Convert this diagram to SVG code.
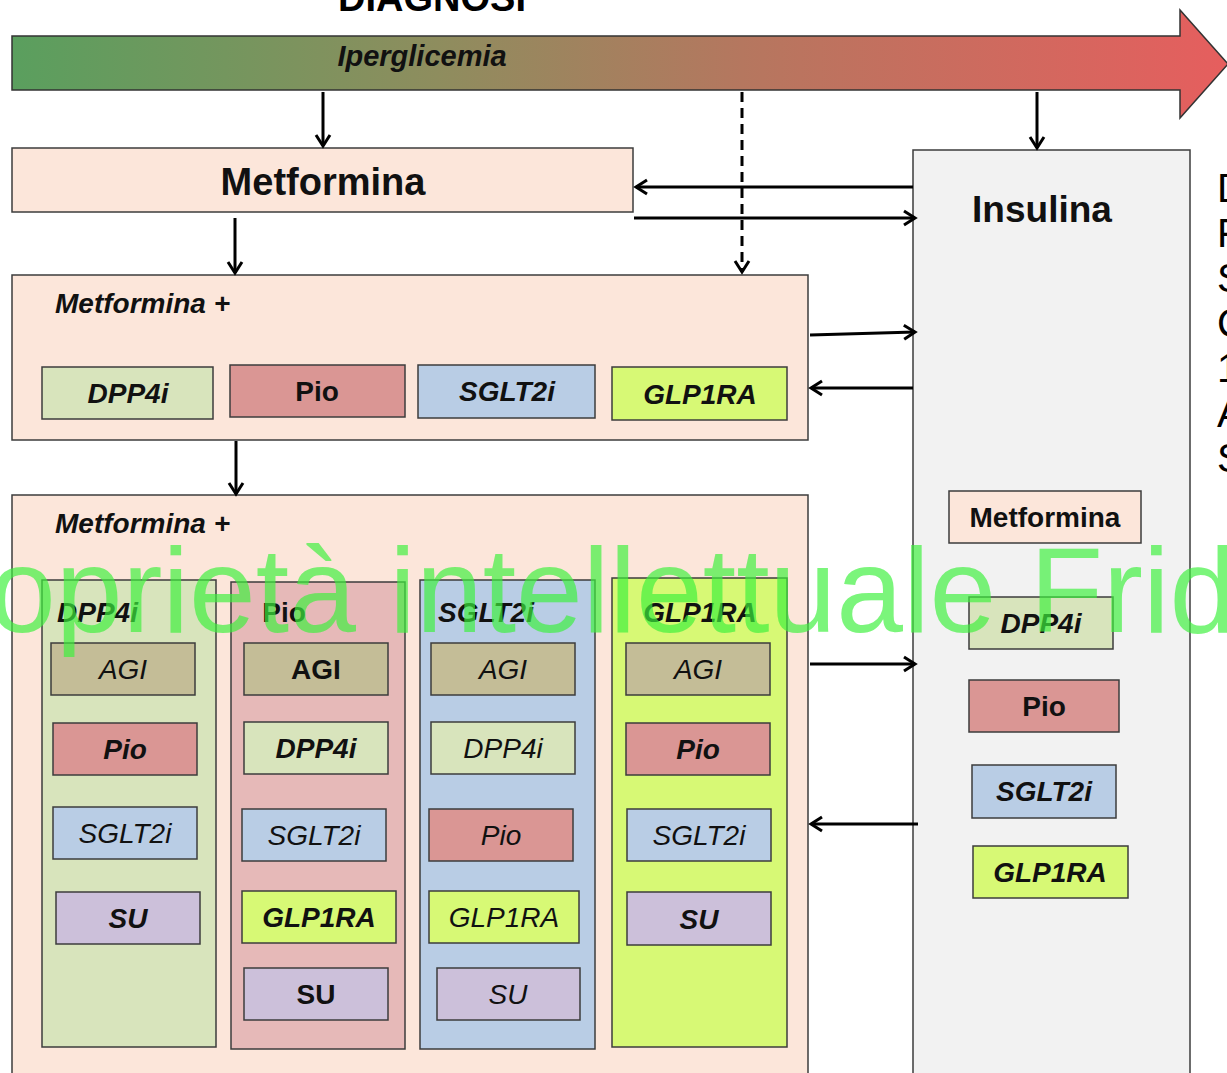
<svg xmlns="http://www.w3.org/2000/svg" width="1227" height="1073" viewBox="0 0 1227 1073">
<style>
.box{stroke:#3c3c3c;stroke-width:1.5}
.peach{fill:#fce6da}.green{fill:#d8e4bc}.red{fill:#da9694}.blue{fill:#b9cde5}
.lime{fill:#d7f975}.tan{fill:#c4bd97}.purple{fill:#ccc0da}.ltred{fill:#e6b9b8}.gray{fill:#f2f2f2}
.t{font-family:"Liberation Sans",Arial,sans-serif;font-size:28px;text-anchor:middle;fill:#111}
.b{font-weight:bold}.i{font-style:italic}
.st{font-family:"Liberation Sans",Arial,sans-serif;font-size:28px;font-weight:bold;font-style:italic;fill:#111}
.conn{stroke:#000;stroke-width:3;fill:none}
.side{font-family:"Liberation Sans",Arial,sans-serif;font-size:40px;fill:#000}
</style>
<defs>
<linearGradient id="grad" x1="0" y1="0" x2="1" y2="0">
<stop offset="0" stop-color="#5a9f5e"/>
<stop offset="0.35" stop-color="#8e8d5e"/>
<stop offset="0.6" stop-color="#b5775f"/>
<stop offset="1" stop-color="#e65e5e"/>
</linearGradient>
<marker id="ah" markerUnits="userSpaceOnUse" markerWidth="16" markerHeight="18" refX="13" refY="9" orient="auto">
<path d="M2,2 L13,9 L2,16" fill="none" stroke="#000" stroke-width="3"/>
</marker>
</defs>
<rect width="1227" height="1073" fill="#fff"/>

<g id="diagnosi">
<text x="432" y="11" font-family="Liberation Sans,Arial,sans-serif" font-size="38" font-weight="bold" text-anchor="middle">DIAGNOSI</text>
</g>

<g id="iperglicemia">
<path d="M12,36 H1180 V10 L1228,64 L1180,118 V90 H12 Z" fill="url(#grad)" stroke="#333" stroke-width="1.5"/>
<text x="422" y="66" font-family="Liberation Sans,Arial,sans-serif" font-size="29" font-weight="bold" font-style="italic" text-anchor="middle" fill="#111">Iperglicemia</text>
</g>

<g id="metformina">
<rect class="box peach" x="12" y="148" width="621" height="64"/>
<text class="t b" x="323" y="195" style="font-size:38px">Metformina</text>
</g>

<g id="insulina">
<rect class="box gray" x="913" y="150" width="277" height="925"/>
<text class="t b" x="1042" y="222" style="font-size:37px">Insulina</text>
<rect class="box peach" x="949" y="491" width="192" height="52"/>
<text class="t b" x="1045" y="527">Metformina</text>
<rect class="box green" x="969" y="597" width="144" height="52"/>
<text class="t b i" x="1041" y="633">DPP4i</text>
<rect class="box red" x="969" y="680" width="150" height="52"/>
<text class="t b" x="1044" y="716">Pio</text>
<rect class="box blue" x="972" y="765" width="144" height="53"/>
<text class="t b i" x="1044" y="801">SGLT2i</text>
<rect class="box lime" x="973" y="846" width="155" height="52"/>
<text class="t b i" x="1050" y="882">GLP1RA</text>
</g>

<g id="side-text">
<text class="side" x="1217" y="202">D</text>
<text class="side" x="1217" y="247">F</text>
<text class="side" x="1217" y="292">S</text>
<text class="side" x="1217" y="337">C</text>
<text class="side" x="1217" y="382">1</text>
<text class="side" x="1217" y="427">A</text>
<text class="side" x="1217" y="472">S</text>
</g>

<g id="metformina-plus-1">
<rect class="box peach" x="12" y="275" width="796" height="165"/>
<text class="st" x="55" y="313">Metformina +</text>
<rect class="box green" x="42" y="367" width="171" height="52"/>
<text class="t b i" x="128" y="403">DPP4i</text>
<rect class="box red" x="230" y="365" width="175" height="52"/>
<text class="t b" x="317" y="401">Pio</text>
<rect class="box blue" x="418" y="365" width="177" height="53"/>
<text class="t b i" x="507" y="401">SGLT2i</text>
<rect class="box lime" x="612" y="367" width="175" height="53"/>
<text class="t b i" x="700" y="404">GLP1RA</text>
</g>

<g id="metformina-plus-2">
<rect class="box peach" x="12" y="495" width="796" height="590"/>
<text class="st" x="55" y="533">Metformina +</text>
</g>

<g id="col-dpp4i">
<rect class="box green" x="42" y="580" width="174" height="467"/>
<text class="st" x="57" y="622">DPP4i</text>
<rect class="box tan" x="51" y="643" width="144" height="52"/>
<text class="t i" x="123" y="679">AGI</text>
<rect class="box red" x="53" y="723" width="144" height="52"/>
<text class="t b i" x="125" y="759">Pio</text>
<rect class="box blue" x="53" y="807" width="144" height="52"/>
<text class="t i" x="125" y="843">SGLT2i</text>
<rect class="box purple" x="56" y="892" width="144" height="52"/>
<text class="t b i" x="128" y="928">SU</text>
</g>

<g id="col-pio">
<rect class="box ltred" x="231" y="582" width="174" height="467"/>
<text class="t b" x="284" y="622">Pio</text>
<rect class="box tan" x="244" y="643" width="144" height="52"/>
<text class="t b" x="316" y="679">AGI</text>
<rect class="box green" x="244" y="722" width="144" height="52"/>
<text class="t b i" x="316" y="758">DPP4i</text>
<rect class="box blue" x="242" y="809" width="144" height="52"/>
<text class="t i" x="314" y="845">SGLT2i</text>
<rect class="box lime" x="242" y="891" width="154" height="52"/>
<text class="t b i" x="319" y="927">GLP1RA</text>
<rect class="box purple" x="244" y="968" width="144" height="52"/>
<text class="t b" x="316" y="1004">SU</text>
</g>

<g id="col-sglt2i">
<rect class="box blue" x="420" y="580" width="175" height="469"/>
<text class="st" x="438" y="622">SGLT2i</text>
<rect class="box tan" x="431" y="643" width="144" height="52"/>
<text class="t i" x="503" y="679">AGI</text>
<rect class="box green" x="431" y="722" width="144" height="52"/>
<text class="t i" x="503" y="758">DPP4i</text>
<rect class="box red" x="429" y="809" width="144" height="52"/>
<text class="t i" x="501" y="845">Pio</text>
<rect class="box lime" x="429" y="891" width="150" height="52"/>
<text class="t i" x="504" y="927">GLP1RA</text>
<rect class="box purple" x="437" y="968" width="143" height="52"/>
<text class="t i" x="508" y="1004">SU</text>
</g>

<g id="col-glp1ra">
<rect class="box lime" x="612" y="578" width="175" height="469"/>
<text class="t b i" x="700" y="622">GLP1RA</text>
<rect class="box tan" x="626" y="643" width="144" height="52"/>
<text class="t i" x="698" y="679">AGI</text>
<rect class="box red" x="626" y="723" width="144" height="52"/>
<text class="t b i" x="698" y="759">Pio</text>
<rect class="box blue" x="627" y="809" width="144" height="52"/>
<text class="t i" x="699" y="845">SGLT2i</text>
<rect class="box purple" x="627" y="892" width="144" height="53"/>
<text class="t b i" x="699" y="929">SU</text>
</g>

<g id="connectors">
<line class="conn" x1="323" y1="92" x2="323" y2="146" marker-end="url(#ah)"/>
<line class="conn" x1="742" y1="92" x2="742" y2="272" stroke-dasharray="10 6" marker-end="url(#ah)"/>
<line class="conn" x1="1037" y1="92" x2="1037" y2="148" marker-end="url(#ah)"/>
<line class="conn" x1="913" y1="187" x2="636" y2="187" marker-end="url(#ah)"/>
<line class="conn" x1="634" y1="218" x2="915" y2="218" marker-end="url(#ah)"/>
<line class="conn" x1="235" y1="218" x2="235" y2="273" marker-end="url(#ah)"/>
<line class="conn" x1="810" y1="335" x2="915" y2="332" marker-end="url(#ah)"/>
<line class="conn" x1="913" y1="388" x2="811" y2="388" marker-end="url(#ah)"/>
<line class="conn" x1="236" y1="441" x2="236" y2="494" marker-end="url(#ah)"/>
<line class="conn" x1="810" y1="664" x2="915" y2="664" marker-end="url(#ah)"/>
<line class="conn" x1="918" y1="824" x2="811" y2="824" marker-end="url(#ah)"/>
</g>

<g id="watermark">
<text x="-11" y="632" font-family="Liberation Sans,Arial,sans-serif" font-size="120" fill="#3cf03c" fill-opacity="0.68">oprietà intellettuale Frid</text>
</g>
</svg>
